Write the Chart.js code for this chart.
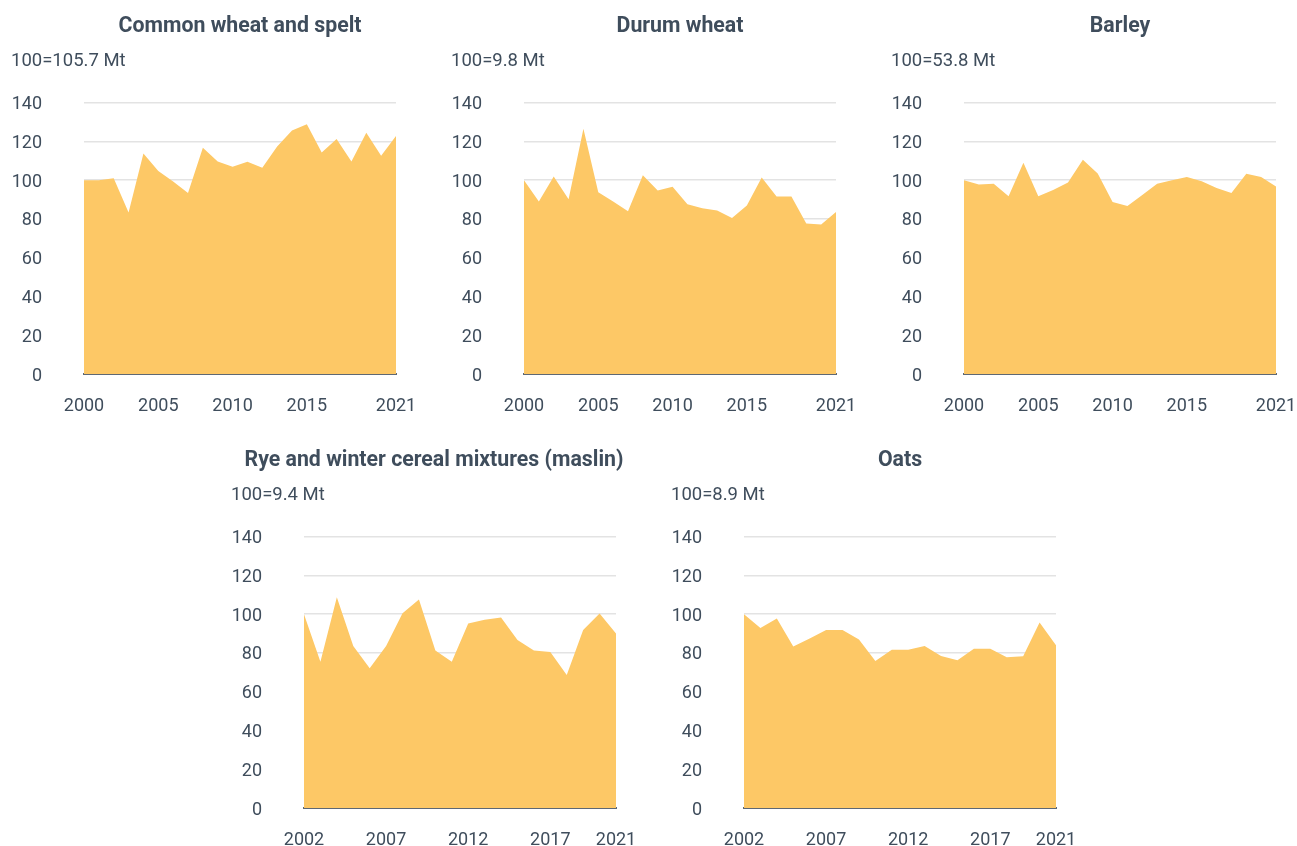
<!DOCTYPE html>
<html>
<head>
<meta charset="utf-8">
<script src="https://cdn.jsdelivr.net/npm/chart.js@4"></script>
<style>
  html, body { margin: 0; padding: 0; background: #ffffff; overflow: hidden; }
  body { width: 1297px; height: 846px; position: relative; }
  canvas { position: absolute; }
</style>
</head>
<body>
<canvas id="c1" width="458" height="430" style="left:11px;top:0px"></canvas>
<canvas id="c2" width="458" height="430" style="left:451px;top:0px"></canvas>
<canvas id="c3" width="458" height="430" style="left:891px;top:0px"></canvas>
<canvas id="c4" width="406" height="412" style="left:231px;top:434px"></canvas>
<canvas id="c5" width="458" height="412" style="left:671px;top:434px"></canvas>
<script>
// ---- Data ----
const yearsTop = ['2000','2001','2002','2003','2004','2005','2006','2007','2008','2009','2010',
                  '2011','2012','2013','2014','2015','2016','2017','2018','2019','2020','2021'];
const yearsBottom = ['2002','2003','2004','2005','2006','2007','2008','2009','2010','2011',
                     '2012','2013','2014','2015','2016','2017','2018','2019','2020','2021'];
const tickYearsTop = ['2000','2005','2010','2015','2021'];
const tickYearsBottom = ['2002','2007','2012','2017','2021'];
const yTicks = [0, 20, 40, 60, 80, 100, 120, 140];

const commonWheat = [100, 100, 101, 83.3, 113.8, 104.8, 99.3, 93.4, 116.7, 109.7, 106.9,
                     109.5, 106.4, 117.4, 125.7, 128.8, 114.3, 121.2, 109.7, 124.5, 112.6, 122.8];
const durumWheat  = [100, 89, 101.9, 90.2, 126.6, 93.8, 89, 84, 102.6, 94.7, 96.6,
                     87.6, 85.5, 84.3, 80.5, 86.9, 101.4, 91.6, 91.6, 77.6, 77.1, 83.6];
const barley      = [100, 97.8, 98.1, 91.7, 109, 91.7, 95, 98.8, 110.5, 103.4, 88.8,
                     86.7, 92.4, 98.1, 100, 101.6, 99.5, 96, 93.4, 103.3, 101.6, 96.7];
const rye         = [100, 75.5, 108.8, 83.6, 72.1, 83.6, 100.5, 107.6, 81.2, 75.5,
                     95.2, 97.1, 98.3, 86.7, 81.2, 80.5, 68.6, 91.9, 100.3, 90];
const oats        = [100, 92.9, 97.8, 83.3, 87.4, 91.9, 91.9, 86.9, 75.9, 81.7,
                     81.7, 83.6, 78.4, 76.2, 82.2, 82.2, 77.8, 78.3, 95.7, 84];

const titles = ['Common wheat and spelt', 'Durum wheat', 'Barley',
                'Rye and winter cereal mixtures (maslin)', 'Oats'];
const subtitles = ['100=105.7 Mt', '100=9.8 Mt', '100=53.8 Mt', '100=9.4 Mt', '100=8.9 Mt'];

// ---- Styles ----
const FONT = 'Roboto, "Noto Sans", sans-serif';
const TEXT = '#3f4d5c';
const FILL = '#fdc866';

function makeChart(id, labels, values, tickList, title, subtitle, xAxisHeight, rightWidth) {
  new Chart(document.getElementById(id), {
    type: 'line',
    data: {
      labels: labels,
      datasets: [{
        data: values,
        fill: 'origin',
        backgroundColor: FILL,
        borderWidth: 0,
        borderColor: FILL,
        pointRadius: 0,
        pointHoverRadius: 0,
        tension: 0
      }]
    },
    options: {
      responsive: false,
      animation: false,
      events: [],
      layout: { padding: 0 },
      plugins: {
        legend: { display: false },
        tooltip: { enabled: false },
        title: {
          display: true,
          text: title,
          align: 'center',
          color: TEXT,
          font: { family: FONT, size: 21.3, weight: 'bold' },
          padding: { top: 14.2, bottom: 0 }
        },
        subtitle: {
          display: true,
          text: subtitle,
          align: 'start',
          color: TEXT,
          font: { family: FONT, size: 18.5, weight: 'normal' },
          padding: { top: 10.1, bottom: 30.6 }
        }
      },
      scales: {
        x: {
          type: 'category',
          z: 1,
          grid: {
            display: true,
            drawOnChartArea: false,
            drawTicks: true,
            tickLength: 22,
            tickColor: 'rgba(0,0,0,0)',
            color: 'rgba(0,0,0,0)'
          },
          border: { display: true, color: '#5e6874', width: 2 },
          ticks: {
            autoSkip: false,
            maxRotation: 0,
            minRotation: 0,
            padding: 0,
            color: TEXT,
            font: { family: FONT, size: 18 },
            callback: function (v, i) {
              const lab = this.getLabelForValue(v);
              return tickList.includes(lab) ? lab : '';
            }
          },
          afterFit: function (s) { s.height = xAxisHeight; }
        },
        y: {
          min: 0,
          max: 140,
          z: 1,
          afterBuildTicks: function (s) { s.ticks = yTicks.map(v => ({ value: v })); },
          grid: {
            drawTicks: true,
            tickLength: 42,
            tickColor: 'rgba(0,0,0,0)',
            color: 'rgba(0,0,0,0.11)',
            lineWidth: 1.5
          },
          border: { display: false },
          ticks: {
            padding: 0,
            labelOffset: 2,
            color: TEXT,
            font: { family: FONT, size: 18 }
          },
          afterFit: function (s) { s.width = 73; }
        },
        yRight: {
          position: 'right',
          display: true,
          grid: { display: false, drawTicks: false },
          border: { display: false },
          ticks: { display: false },
          afterFit: function (s) { s.width = rightWidth; }
        }
      }
    }
  });
}

makeChart('c1', yearsTop, commonWheat, tickYearsTop, titles[0], subtitles[0], 56, 73);
makeChart('c2', yearsTop, durumWheat, tickYearsTop, titles[1], subtitles[1], 56, 73);
makeChart('c3', yearsTop, barley, tickYearsTop, titles[2], subtitles[2], 56, 73);
makeChart('c4', yearsBottom, rye, tickYearsBottom, titles[3], subtitles[3], 38, 21);
makeChart('c5', yearsBottom, oats, tickYearsBottom, titles[4], subtitles[4], 38, 73);
</script>
</body>
</html>
